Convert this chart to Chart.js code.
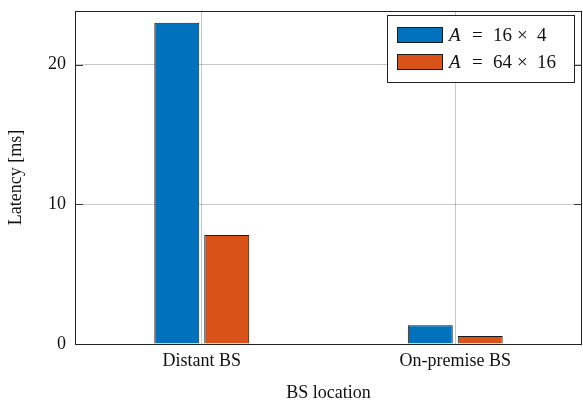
<!DOCTYPE html>
<html>
<head>
<meta charset="utf-8">
<script src="https://cdn.jsdelivr.net/npm/chart.js@4"></script>
<style>
    html, body { margin: 0; padding: 0; background: #fff; }
    canvas { display: block; }
</style>
</head>
<body>
<canvas id="latencyChart" width="583" height="402"></canvas>
<script>
// ====== Data ======
const LOCATIONS = ["Distant BS", "On-premise BS"];
const LATENCY_16x4 = [23.0, 1.35];
const LATENCY_64x16 = [7.8, 0.57];
const Y_TICKS = [0, 10, 20];
const SERIES_NAMES = [["A", "=", "16", "\u00d7", "4"], ["A", "=", "64", "\u00d7", "16"]];
const SERIES_COLORS = ["#0072bd", "#d95319"];

const FONT = "'Liberation Serif', 'DejaVu Serif', serif";

// ---- Frame + inward ticks (pgfplots style box) ----
const framePlugin = {
    id: 'frame',
    afterDatasetsDraw(chart) {
        const {ctx, chartArea: a, scales} = chart;
        ctx.save();
        ctx.strokeStyle = '#3a3a3a';
        ctx.lineWidth = 1;
        Y_TICKS.forEach(v => {
            const y = Math.round(scales.y.getPixelForValue(v)) + 0.5;
            ctx.beginPath();
            ctx.moveTo(a.left, y); ctx.lineTo(a.left + 8, y);
            ctx.moveTo(a.right, y); ctx.lineTo(a.right - 8, y);
            ctx.stroke();
        });
        ctx.strokeStyle = '#222';
        ctx.strokeRect(Math.round(a.left) + 0.5, Math.round(a.top) + 0.5,
                Math.round(a.right - a.left) - 1, Math.round(a.bottom - a.top));
        ctx.restore();
    }
};

// ---- Legend box in the upper right ----
const legendBoxPlugin = {
    id: 'legendBox',
    afterDraw(chart) {
        const ctx = chart.ctx;
        const x0 = 387, y0 = 15, w = 187, h = 67;
        // left edges of "A", "=", first number, "x", second number
        const pieceX = [449, 472, 493, 517, 537];
        ctx.save();
        ctx.fillStyle = '#fff';
        ctx.fillRect(x0, y0, w, h);
        ctx.strokeStyle = '#222';
        ctx.lineWidth = 1;
        ctx.strokeRect(x0 + 0.5, y0 + 0.5, w, h);
        SERIES_NAMES.forEach((parts, i) => {
            const cy = 35 + i * 27;
            ctx.fillStyle = SERIES_COLORS[i];
            ctx.fillRect(397, cy - 8, 45, 16);
            ctx.strokeStyle = '#1a1a1a';
            ctx.strokeRect(397.5, cy - 7.5, 45, 15);
            ctx.fillStyle = '#111';
            ctx.textBaseline = 'middle';
            parts.forEach((p, j) => {
                ctx.font = (j === 0 ? 'italic ' : '') + '19px ' + FONT;
                ctx.fillText(p, pieceX[j], cy + 1);
            });
        });
        ctx.restore();
    }
};

const ctx = document.getElementById('latencyChart');
new Chart(ctx, {
    type: 'bar',
    data: {
        labels: LOCATIONS,
        datasets: [
            {
                label: 'A = 16 x 4',
                data: LATENCY_16x4,
                backgroundColor: SERIES_COLORS[0],
                borderColor: '#1a1a1a',
                borderWidth: 1,
                categoryPercentage: 0.394,
                barPercentage: 0.9
            },
            {
                label: 'A = 64 x 16',
                data: LATENCY_64x16,
                backgroundColor: SERIES_COLORS[1],
                borderColor: '#1a1a1a',
                borderWidth: 1,
                categoryPercentage: 0.394,
                barPercentage: 0.9
            }
        ]
    },
    options: {
        responsive: false,
        animation: false,
        layout: {padding: {top: 7, right: 1, left: 0, bottom: 0}},
        plugins: {
            legend: {display: false},
            tooltip: {enabled: false}
        },
        scales: {
            x: {
                offset: true,
                grid: {offset: false, color: 'rgba(0,0,0,0.22)', drawTicks: false},
                border: {display: false},
                ticks: {color: '#111', font: {family: FONT, size: 18}, padding: 6},
                title: {
                    display: true,
                    text: 'BS location',
                    color: '#111',
                    font: {family: FONT, size: 18, lineHeight: 1},
                    padding: {top: 0, bottom: 0}
                },
                afterFit(scale) { scale.height = 58; }
            },
            y: {
                min: 0,
                max: 23.85,
                grid: {color: 'rgba(0,0,0,0.22)', drawTicks: false},
                border: {display: false},
                ticks: {
                    stepSize: 10,
                    color: '#111',
                    font: {family: FONT, size: 18, lineHeight: 0.2},
                    padding: 9
                },
                afterBuildTicks(scale) {
                    scale.ticks = Y_TICKS.map(v => ({value: v}));
                },
                title: {
                    display: true,
                    text: 'Latency [ms]',
                    color: '#111',
                    font: {family: FONT, size: 18, lineHeight: 1.2},
                    padding: {top: 5, bottom: 0}
                },
                afterFit(scale) { scale.width = 75; }
            }
        }
    },
    plugins: [framePlugin, legendBoxPlugin]
});
</script>
</body>
</html>
